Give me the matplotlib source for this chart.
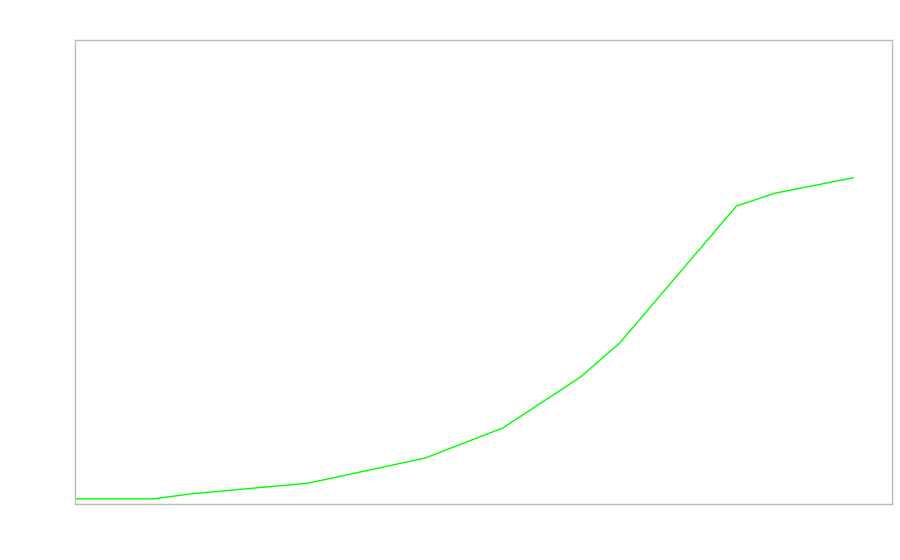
import matplotlib
matplotlib.use("Agg")
import matplotlib.pyplot as plt

# punkty serii (os x: 0..21, os y: 0..100)
x_vals = [0, 2, 3, 6, 9, 11, 13, 14, 17, 18, 20]
y_vals = [1.1, 1.1, 2.2, 4.5, 9.9, 16.4, 27.4, 34.7, 64.2, 67.0, 70.3]

fig = plt.figure(figsize=(9, 5.6), dpi=100)
ax = fig.add_axes([75 / 900, 56 / 560, 817 / 900, 464 / 560])

ax.plot(x_vals, y_vals, color="#00ff00", linewidth=1)

ax.set_xlim(0, 21)
ax.set_ylim(0, 100)
ax.set_xticks([])
ax.set_yticks([])
for spine in ax.spines.values():
    spine.set_color("#bbbbbb")
    spine.set_linewidth(1)

fig.savefig("out.png", dpi=100)
